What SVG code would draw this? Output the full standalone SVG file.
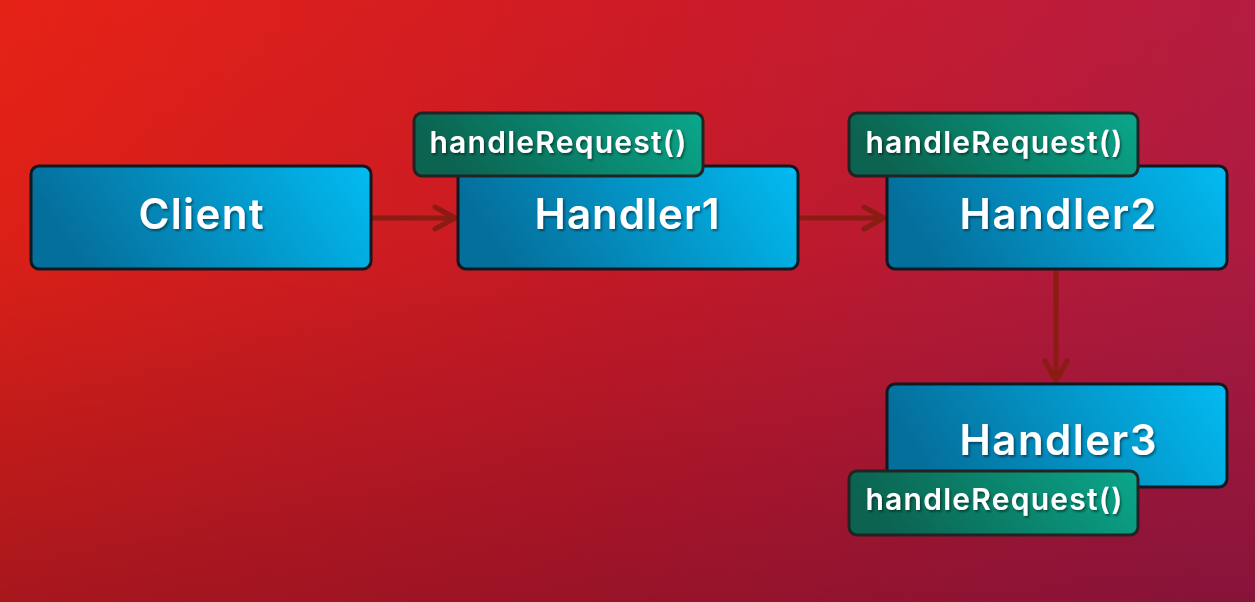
<svg xmlns="http://www.w3.org/2000/svg" width="1255" height="602" viewBox="0 0 1255 602">
  <defs>
    <linearGradient id="bgh" x1="0" y1="0" x2="1255" y2="150" gradientUnits="userSpaceOnUse">
      <stop offset="0" stop-color="#E62216"/>
      <stop offset="0.5" stop-color="#CE1B26"/>
      <stop offset="1" stop-color="#B41C42"/>
    </linearGradient>
    <linearGradient id="bgv" x1="0" y1="0" x2="0" y2="602" gradientUnits="userSpaceOnUse">
      <stop offset="0" stop-color="#2A0028" stop-opacity="0"/>
      <stop offset="0.4" stop-color="#2A0028" stop-opacity="0.05"/>
      <stop offset="1" stop-color="#2A0028" stop-opacity="0.32"/>
    </linearGradient>
    <linearGradient id="boxg" x1="0" y1="0.2" x2="1" y2="0">
      <stop offset="0" stop-color="#056F9C"/>
      <stop offset="1" stop-color="#02BBF2"/>
    </linearGradient>
    <linearGradient id="tagg" x1="0" y1="0.2" x2="1" y2="0">
      <stop offset="0" stop-color="#0B6350"/>
      <stop offset="1" stop-color="#0AA88C"/>
    </linearGradient>
    <filter id="ts" x="-10%" y="-20%" width="120%" height="140%">
      <feDropShadow dx="1.5" dy="2" stdDeviation="0.8" flood-color="#000" flood-opacity="0.45"/>
    </filter>
    <marker id="ah" viewBox="0 0 28 28" refX="25" refY="14" markerWidth="28" markerHeight="28" markerUnits="userSpaceOnUse" orient="auto">
      <path d="M5 3 L25 14 L5 25" fill="none" stroke="#8A1C14" stroke-width="5" stroke-linecap="round" stroke-linejoin="round"/>
    </marker>
  </defs>
  <style>
    .box { fill: url(#boxg); stroke: #101820; stroke-width: 3; }
    .tag { fill: url(#tagg); stroke: #232323; stroke-width: 3; }
    .lbl { font-family: Inter, "Liberation Sans", sans-serif; font-weight: 600; font-size: 42px; fill: #ffffff; text-anchor: middle; filter: url(#ts); }
    .tlbl { font-family: Inter, "Liberation Sans", sans-serif; font-weight: 600; font-size: 30px; fill: #ffffff; text-anchor: middle; filter: url(#ts); }
    .conn { stroke: #8A1C14; stroke-width: 5; fill: none; marker-end: url(#ah); }
  </style>
  <rect x="0" y="0" width="1255" height="602" fill="url(#bgh)"/>
  <rect x="0" y="0" width="1255" height="602" fill="url(#bgv)"/>

  <g id="connectors">
    <line class="conn" x1="372" y1="218" x2="455" y2="218"/>
    <line class="conn" x1="799" y1="218" x2="884" y2="218"/>
    <line class="conn" x1="1056" y1="271" x2="1056" y2="381"/>
  </g>

  <g id="client">
    <rect class="box" x="31" y="166" width="340" height="103" rx="8"/>
    <text class="lbl" x="201" y="229" textLength="125" lengthAdjust="spacing">Client</text>
  </g>

  <g id="handler1">
    <rect class="box" x="458" y="166" width="340" height="103" rx="8"/>
    <text class="lbl" x="627" y="229" textLength="185" lengthAdjust="spacing">Handler1</text>
    <rect class="tag" x="414" y="113" width="289" height="63" rx="8"/>
    <text class="tlbl" x="558" y="153" textLength="257" lengthAdjust="spacing">handleRequest()</text>
  </g>

  <g id="handler2">
    <rect class="box" x="887" y="166" width="340" height="103" rx="8"/>
    <text class="lbl" x="1058" y="229" textLength="197" lengthAdjust="spacing">Handler2</text>
    <rect class="tag" x="849" y="113" width="289" height="63" rx="8"/>
    <text class="tlbl" x="994" y="153" textLength="257" lengthAdjust="spacing">handleRequest()</text>
  </g>

  <g id="handler3">
    <rect class="box" x="887" y="384" width="340" height="103" rx="8"/>
    <text class="lbl" x="1058" y="455" textLength="197" lengthAdjust="spacing">Handler3</text>
    <rect class="tag" x="849" y="471" width="289" height="64" rx="8"/>
    <text class="tlbl" x="994" y="510" textLength="257" lengthAdjust="spacing">handleRequest()</text>
  </g>
</svg>
